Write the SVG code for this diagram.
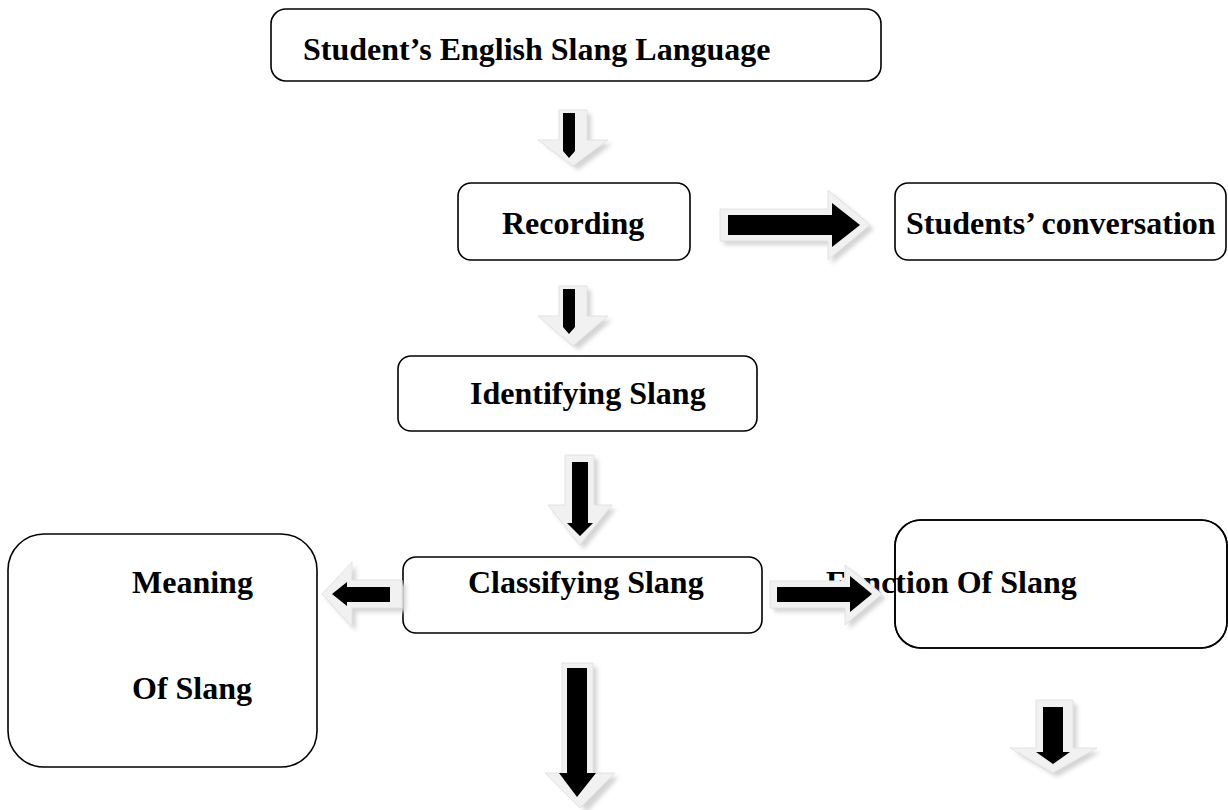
<svg xmlns="http://www.w3.org/2000/svg" width="1228" height="810" viewBox="0 0 1228 810">
<style>
.box{fill:#fff;stroke:#000;stroke-width:1.6}
.edge{fill:none;stroke:#000;stroke-width:1.6}
.t{font-family:"Liberation Serif","Times New Roman",serif;font-weight:bold;font-size:32px;fill:#000}
.sh{fill:#d4d4d4;filter:url(#blur)}
.out{fill:#f1f1f1;stroke:#e2e2e2;stroke-width:1}
.blk{fill:#000}
</style>
<defs>
<filter id="blur" x="-20%" y="-20%" width="140%" height="140%"><feGaussianBlur stdDeviation="2"/></filter>
</defs>
<rect width="1228" height="810" fill="#fff"/>

<g id="node-title">
<rect class="box" x="271" y="9" width="610" height="72" rx="15"/>
<text class="t" x="303" y="60">Student’s English Slang Language</text>
</g>

<g id="node-recording">
<rect class="box" x="458" y="183" width="232" height="77" rx="13"/>
<text class="t" x="502" y="234">Recording</text>
</g>

<g id="node-conversation">
<rect class="box" x="895" y="183" width="331" height="77" rx="13"/>
<text class="t" x="906" y="234">Students’ conversation</text>
</g>

<g id="node-identifying">
<rect class="box" x="398" y="356" width="359" height="75" rx="13"/>
<text class="t" x="470" y="404">Identifying Slang</text>
</g>

<g id="node-classifying">
<rect class="box" x="403" y="557" width="359" height="76" rx="13"/>
<text class="t" x="468" y="593">Classifying Slang</text>
</g>

<g id="node-meaning">
<rect class="box" x="8" y="534" width="309" height="233" rx="36"/>
<text class="t" x="132" y="593">Meaning</text>
<text class="t" x="132" y="699">Of Slang</text>
</g>

<g id="node-function">
<rect class="box" x="895" y="520" width="332" height="128" rx="26"/>
<text class="t" x="826" y="593">Function Of Slang</text>
<rect class="edge" x="895" y="520" width="332" height="128" rx="26"/>
</g>

<g id="connectors">
<!-- arrow 1: title -> recording -->
<path class="sh" d="M563,114 H591 V144 H612 L578,170 L544,144 H563 Z"/>
<path class="out" d="M559,110 H587 V140 H608 L573,166 L538,140 H559 Z"/>
<path class="blk" d="M563,113 H575 V151 L569,158 L563,151 Z"/>

<!-- arrow 2: recording -> identifying -->
<path class="sh" d="M563,290 H591 V320 H612 L578,350 L544,320 H563 Z"/>
<path class="out" d="M559,286 H587 V316 H608 L573,346 L538,316 H559 Z"/>
<path class="blk" d="M563,289 H575 V327 L569,334 L563,327 Z"/>

<!-- arrow 3: identifying -> classifying -->
<path class="sh" d="M570,459 H598 V509 H616 L584,549 L552,509 H570 Z"/>
<path class="out" d="M565,455 H594 V505 H612 L580,545 L548,505 H565 Z"/>
<path class="blk" d="M572,462 H588 V523 H593 L580,536 L567,523 H572 Z"/>

<!-- right arrow: recording -> conversation -->
<path class="sh" d="M724,213 H832 V194 L874,229 L832,264 V245 H724 Z"/>
<path class="out" d="M720,209 H828 V190 L870,225 L828,260 V241 H720 Z"/>
<path class="blk" d="M728,215 H832 V203 L860,225 L832,247 V235 H728 Z"/>

<!-- left arrow: classifying -> meaning -->
<path class="sh" d="M326,598 L356,566 V584 H406 V612 H356 V631 Z"/>
<path class="out" d="M322,594 L352,562 V580 H402 V608 H352 V627 Z"/>
<path class="blk" d="M332,594 L347,582 V587 H390 V602 H347 V606 Z"/>

<!-- right arrow: classifying -> function -->
<path class="sh" d="M774,585 H849 V569 L886,598 L849,629 V612 H774 Z"/>
<path class="out" d="M770,581 H845 V565 L882,594 L845,625 V608 H770 Z"/>
<path class="blk" d="M777,587 H850 V576 L872,594 L850,612 V602 H777 Z"/>

<!-- bottom arrow below classifying -->
<path class="sh" d="M566,667 H597 V777 H619 L587,812 L555,777 H566 Z"/>
<path class="out" d="M562,663 H593 V773 H615 L580,808 L545,773 H562 Z"/>
<path class="blk" d="M567,668 H587 V773 H596 L577,797 L559,773 H567 Z"/>

<!-- bottom arrow below function -->
<path class="sh" d="M1040,704 H1077 V752 H1101 L1057,777 L1014,752 H1040 Z"/>
<path class="out" d="M1036,700 H1073 V748 H1097 L1053,773 L1010,748 H1036 Z"/>
<path class="blk" d="M1043,707 H1063 V752 H1070 L1053,764 L1036,752 H1043 Z"/>
</g>
</svg>
